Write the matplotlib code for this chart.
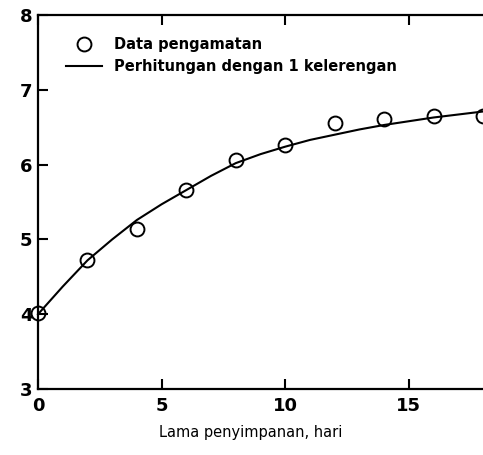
import matplotlib
matplotlib.use("Agg")
import matplotlib.pyplot as plt

# data
hari_obs = [0, 2, 4, 6, 8, 10, 12, 14, 16, 18]
nilai_obs = [4.02, 4.72, 5.14, 5.66, 6.06, 6.26, 6.55, 6.61, 6.65, 6.65]

hari_hit = [0, 1, 2, 3, 4, 5, 6, 7, 8, 9, 10, 11, 12, 13, 14, 15, 16, 17, 18]
nilai_hit = [4.00, 4.37, 4.72, 5.00, 5.26, 5.47, 5.66, 5.85, 6.02, 6.14,
             6.24, 6.33, 6.40, 6.47, 6.53, 6.58, 6.63, 6.67, 6.71]

xticks = [0, 5, 10, 15]
yticks = [3, 4, 5, 6, 7, 8]

plt.rcParams['font.family'] = ['DejaVu Sans']

fig = plt.figure(figsize=(4.83, 4.55), dpi=100)
ax = fig.add_axes([0.0787, 0.145, 0.9213, 0.822])

ax.plot(hari_hit, nilai_hit, color='black', lw=1.5, label='Perhitungan dengan 1 kelerengan', clip_on=False)
ax.plot(hari_obs, nilai_obs, 'o', mfc='none', mec='black', ms=10, mew=1.4,
        label='Data pengamatan', clip_on=False)

ax.set_xlim(0, 18)
ax.set_ylim(3, 8)
ax.set_xticks(xticks)
ax.set_yticks(yticks)
ax.tick_params(direction='in', length=7, width=1.5, labelsize=13, top=True, pad=6)
ax.tick_params(axis='y', pad=4)
for lbl in ax.get_xticklabels() + ax.get_yticklabels():
    lbl.set_fontweight('bold')

for s in ['left', 'bottom', 'top']:
    ax.spines[s].set_linewidth(1.6)
ax.spines['right'].set_visible(False)

handles, labels = ax.get_legend_handles_labels()
leg = fig.legend(handles[::-1], labels[::-1], loc='upper left',
                 bbox_to_anchor=(66 / 483, 1 - 37 / 455),
                 frameon=False, fontsize=10.5, handlelength=2.5, handletextpad=0.8,
                 labelspacing=0.5, borderaxespad=0, borderpad=0)
for t in leg.get_texts():
    t.set_fontweight('bold')

fig.text(251 / 483, 1 - 433 / 455, 'Lama penyimpanan, hari', ha='center', va='center',
         fontsize=10.5, fontweight='medium')

fig.savefig('out.png', dpi=100)
